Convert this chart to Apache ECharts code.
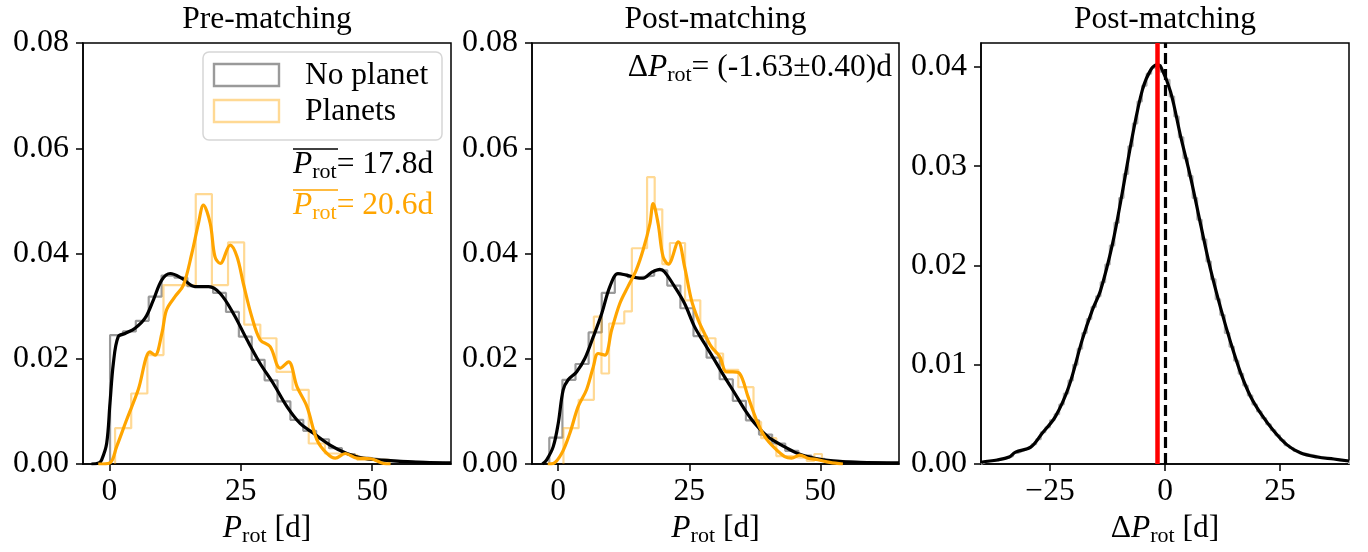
<!DOCTYPE html>
<html><head><meta charset="utf-8">
<script src="https://cdn.jsdelivr.net/npm/echarts@6/dist/echarts.min.js"></script>
<style>html,body{margin:0;padding:0;background:#fff}#c{width:1368px;height:552px}</style>
</head><body><div id="c"></div>
<script>
// ---------------- DATA ----------------
// Panel 1 (Pre-matching) – histograms (bin start, bin width, heights)
const h1NoStart = 0.15, h1NoWidth = 2.45;
const h1NoHeights = [0.0245,0.0252,0.0272,0.0318,0.0358,0.0354,0.0338,0.0337,0.0325,0.0289,0.0242,0.0198,0.0159,0.0119,0.0084,0.0063,0.0047,0.0030,0.0019,0.0012,0.0009,0.0007,0.0005,0.0004,0.0003,0.0002];
const h1PlStart = 1.1, h1PlWidth = 3.07;
const h1PlHeights = [0.0068,0.0134,0.0207,0.0340,0.0340,0.0513,0.0340,0.0421,0.0265,0.0239,0.0175,0.0141,0.0039,0.0020,0.0017,0.0008,0.0008];
// Panel 1 KDE curves
const k1NoX = [-3.4,-2.0,-1.45,-0.5,0.13,0.77,1.7,3.0,4.9,6.8,8.4,10.0,11.6,13.8,16.3,18.9,21.1,23.6,26.2,28.7,31.2,33.8,36.3,38.9,42.0,45.2,48.4,54,60,65];
const k1NoY = [0,0.0002,0.0008,0.0039,0.0115,0.0191,0.0242,0.0248,0.0258,0.0277,0.0312,0.0350,0.0362,0.0353,0.0337,0.0337,0.0324,0.0286,0.0236,0.0191,0.0153,0.0109,0.0077,0.0058,0.0036,0.0020,0.0011,0.0006,0.0003,0.0002];
const k1PlX = [-2.1,0.1,1.4,3.3,5.5,7.75,8.7,10.0,10.9,12.5,14.1,15.7,16.95,17.9,19.2,20.1,21.1,23.0,24.3,25.5,27.1,28.7,30.6,32.5,34.1,35.7,37.6,39.5,41.4,43.0,44.9,47.1,49.7,52.2,53.5];
const k1PlY = [0,0.0002,0.0033,0.0084,0.0141,0.0213,0.0207,0.0248,0.0293,0.0318,0.0340,0.0400,0.0457,0.0492,0.0457,0.0394,0.0381,0.0416,0.0394,0.0343,0.0280,0.0236,0.0223,0.0182,0.0194,0.0147,0.0109,0.0046,0.0020,0.0011,0.0020,0.0011,0.0010,0.0001,0];

// Panel 2 (Post-matching)
const h2NoStart = -1.7, h2NoWidth = 2.5;
const h2NoHeights = [0.0050,0.0160,0.0190,0.0250,0.0325,0.0360,0.0355,0.0358,0.0368,0.0339,0.0296,0.0243,0.0202,0.0161,0.0120,0.0083,0.0056,0.0039,0.0025,0.0016,0.0010,0.0006,0.0005,0.0003,0.0003,0.0002];
const h2PlStart = 1.0, h2PlWidth = 1.45;
const h2PlHeights = [0.0068,0.0068,0.0122,0.0122,0.0280,0.0172,0.0267,0.0267,0.0290,0.0410,0.0410,0.0545,0.0484,0.0380,0.0420,0.0420,0.0311,0.0311,0.0239,0.0239,0.0210,0.0179,0.0179,0.0146,0.0146,0.0080,0.0049,0.0049,0.0015,0.0015,0.0012,0.0012,0.0006,0.0019,0.0006];
const k2NoX = [-3.0,-2.2,-0.95,0,0.95,1.9,3.5,5.1,6.7,8.3,9.85,11.4,13.0,14.9,16.2,17.8,19.4,20.3,22.2,24.1,26.0,27.9,29.8,31.7,33.7,35.6,37.5,40.0,42.6,45.7,48.9,52.4,57.5,65];
const k2NoY = [0,0.0008,0.0033,0.0077,0.0141,0.0160,0.0175,0.0201,0.0242,0.0286,0.0337,0.0362,0.0359,0.0354,0.0353,0.0364,0.0370,0.0365,0.0337,0.0305,0.0261,0.0229,0.0198,0.0166,0.0134,0.0103,0.0077,0.0052,0.0036,0.0020,0.0011,0.0006,0.0003,0.0002];
const k2PlX = [-2.0,-0.95,0.65,2.2,3.8,5.4,6.7,7.6,8.9,10.2,11.75,13.3,14.9,16.2,17.5,18.1,19.05,20.0,21.0,22.9,24.1,25.4,26.7,27.9,29.2,30.8,32.1,33.3,34.6,36.2,37.8,39.4,41.3,43.2,44.5,46.1,47.6,49.5,51.8,54.3];
const k2PlY = [0,0.0001,0.0020,0.0058,0.0109,0.0141,0.0185,0.0210,0.0207,0.0255,0.0305,0.0337,0.0369,0.0407,0.0457,0.0495,0.0457,0.0394,0.0380,0.0422,0.0375,0.0312,0.0274,0.0248,0.0223,0.0204,0.0175,0.0175,0.0172,0.0128,0.0084,0.0052,0.0030,0.0014,0.0011,0.0017,0.0011,0.0008,0.0003,0];

// Panel 3 (difference distribution)
const h3Start = -40, h3Width = 1;
const h3Heights = [0.0002,0.0003,0.0003,0.0004,0.0005,0.0006,0.0008,0.0011,0.0013,0.0015,0.0017,0.0020,0.0025,0.0032,0.0037,0.0044,0.0050,0.0060,0.0071,0.0084,0.0100,0.0116,0.0132,0.0146,0.0158,0.0169,0.0183,0.0201,0.0220,0.0243,0.0268,0.0292,0.0320,0.0343,0.0365,0.0381,0.0393,0.0399,0.0402,0.0395,
                    0.0387,0.0370,0.0350,0.0329,0.0308,0.0290,0.0268,0.0246,0.0226,0.0204,0.0186,0.0166,0.0150,0.0132,0.0118,0.0104,0.0091,0.0079,0.0069,0.0060,0.0053,0.0046,0.0040,0.0034,0.0029,0.0024,0.0019,0.0016,0.0013,0.0011,0.0010,0.0009,0.0008,0.0007,0.0006,0.0005,0.0005,0.0004,0.0004,0.0003];
const k3X = [-40,-39.7,-36.5,-33.9,-32.5,-29.2,-26.7,-23.8,-20.9,-18.0,-15.8,-14.0,-11.4,-9.3,-7.1,-4.9,-3.1,-1.65,-0.9,1.2,3.4,5.6,7.8,9.9,12.1,14.3,16.5,18.6,20.8,23.7,26.6,29.5,33.1,36.7,40];
const k3Y = [0.0001,0.0002,0.0004,0.0007,0.0012,0.0017,0.0031,0.0048,0.0078,0.0125,0.0155,0.0175,0.0222,0.0273,0.0330,0.0377,0.0397,0.0402,0.0400,0.0375,0.0330,0.0288,0.0240,0.0196,0.0157,0.0122,0.0091,0.0068,0.0051,0.0033,0.0019,0.0011,0.0007,0.0005,0.0003];
const deltaMean = -1.63;
const refLine = 0;

// Axis ticks / texts
const xTicks12 = [0, 25, 50];
const xTicks3 = [-25, 0, 25];
const yTicks12 = [0, 0.02, 0.04, 0.06, 0.08];
const yTicks3 = [0, 0.01, 0.02, 0.03, 0.04];
const titles = ['Pre-matching', 'Post-matching', 'Post-matching'];
const legendNames = ['No planet', 'Planets'];
const meanNo = '17.8d', meanPl = '20.6d';
const deltaText = '(-1.63\u00b10.40)d';

// ---------------- HELPERS ----------------
const FONT = '"Liberation Serif","Times New Roman",serif';
const FS = 31.5, FSUB = 22, FTICK = 32;
const C_GRAY = '#9a9a9a', C_ORANGE = '#FFA500', C_ORL = 'rgba(255,165,0,0.42)';
function pairs(xs, ys){ return xs.map((x,i)=>[x, ys[i]]); }
function steps(start, w, hs){
  const p = [[start,0]];
  hs.forEach((h,i)=>{ p.push([start+i*w,h]); p.push([start+(i+1)*w,h]); });
  p.push([start+hs.length*w,0]);
  return p;
}
const grids = [
  {left:83, top:43, width:368, height:421},
  {left:532, top:43, width:367, height:421},
  {left:981, top:43, width:368, height:421}
];
const rich = {
  i:{fontStyle:'italic', fontSize:FS, fontFamily:FONT, color:'#000'},
  s:{fontSize:FSUB, fontFamily:FONT, color:'#000', padding:[14,0,0,0]},
  n:{fontSize:FS, fontFamily:FONT, color:'#000'}
};
function xAxis(i, min, max, ticks, name){
  return {type:'value', gridIndex:i, min:min, max:max,
    axisLine:{show:true, onZero:false, lineStyle:{color:'#000', width:1.5}},
    axisTick:{show:true, inside:false, length:7, customValues:ticks, lineStyle:{color:'#000', width:1.5}},
    axisLabel:{customValues:ticks, color:'#000', fontSize:FS, fontFamily:FONT, margin:12,
      formatter:v=> v<0 ? '\u2212'+Math.abs(v) : String(v)},
    splitLine:{show:false},
    name:name, nameLocation:'middle', nameGap:44,
    nameTextStyle:{fontSize:FS, fontFamily:FONT, color:'#000', rich:rich}
  };
}
function yAxis(i, max, ticks){
  return {type:'value', gridIndex:i, min:0, max:max,
    axisLine:{show:true, onZero:false, lineStyle:{color:'#000', width:1.5}},
    axisTick:{show:true, inside:false, length:7, customValues:ticks, lineStyle:{color:'#000', width:1.5}},
    axisLabel:{customValues:ticks, color:'#000', fontSize:FTICK, fontFamily:FONT, margin:14,
      formatter:v=>v.toFixed(2)},
    splitLine:{show:false}
  };
}
function line(i, data, color, width, z){
  return {type:'line', xAxisIndex:i, yAxisIndex:i, data:data, showSymbol:false, symbol:'none',
    smooth:false, silent:true, z:z, lineStyle:{color:color, width:width}, animation:false};
}
function kde(i, data, color, z){
  const s = line(i, data, color, 3.2, z); s.smooth = 0.35; return s;
}

const series = [
  line(0, steps(h1NoStart,h1NoWidth,h1NoHeights), C_GRAY, 2.2, 2),
  line(0, steps(h1PlStart,h1PlWidth,h1PlHeights), C_ORL, 2.2, 2),
  kde(0, pairs(k1NoX,k1NoY), '#000', 3),
  kde(0, pairs(k1PlX,k1PlY), C_ORANGE, 4),
  line(1, steps(h2NoStart,h2NoWidth,h2NoHeights), C_GRAY, 2.2, 2),
  line(1, steps(h2PlStart,h2PlWidth,h2PlHeights), C_ORL, 2.2, 2),
  kde(1, pairs(k2NoX,k2NoY), '#000', 3),
  kde(1, pairs(k2PlX,k2PlY), C_ORANGE, 4),
  line(2, steps(h3Start,h3Width,h3Heights), '#b0b0b0', 2, 2),
  kde(2, pairs(k3X,k3Y), '#000', 3),
  {type:'line', xAxisIndex:2, yAxisIndex:2, data:[], silent:true, z:5,
    markLine:{symbol:'none', silent:true, animation:false, label:{show:false},
      data:[
        {xAxis:deltaMean, lineStyle:{color:'#ff0000', width:4.5, type:'solid'}},
        {xAxis:refLine, lineStyle:{color:'#000', width:3.2, type:[11,5]}}
      ]}}
];

const graphic = [];
titles.forEach((t,i)=>{
  const g = grids[i];
  graphic.push({type:'text', x:g.left+g.width/2, y:20, z:10,
    style:{text:t, fill:'#000', font:FS+'px '+FONT, align:'center', verticalAlign:'middle'}});
});
// legend box
graphic.push({type:'rect', z:20, shape:{x:203, y:52, width:239, height:88, r:6},
  style:{fill:'rgba(255,255,255,0.8)', stroke:'#d6d6d6', lineWidth:1.5}});
graphic.push({type:'rect', z:21, shape:{x:214, y:64, width:65, height:22},
  style:{fill:'none', stroke:C_GRAY, lineWidth:2.4}});
graphic.push({type:'rect', z:21, shape:{x:214, y:100, width:65, height:22},
  style:{fill:'none', stroke:C_ORL, lineWidth:2.4}});
graphic.push({type:'text', z:21, x:305, y:76,
  style:{text:legendNames[0], fill:'#000', font:FS+'px '+FONT, verticalAlign:'middle'}});
graphic.push({type:'text', z:21, x:305, y:112,
  style:{text:legendNames[1], fill:'#000', font:FS+'px '+FONT, verticalAlign:'middle'}});
// mean annotations
function richFor(color){
  return {
    i:{fontStyle:'italic', fontSize:FS, fontFamily:FONT, fill:color},
    s:{fontSize:FSUB, fontFamily:FONT, fill:color, padding:[14,0,0,0]},
    n:{fontSize:FS, fontFamily:FONT, fill:color}
  };
}
[[meanNo,'#000',165,149],[meanPl,C_ORANGE,206,190]].forEach(([t,c,y,oy])=>{
  graphic.push({type:'text', z:12, x:293, y:y,
    style:{text:'{i|P}{s|rot}{n|= '+t+'}', rich:richFor(c), fill:c, font:FS+'px '+FONT, verticalAlign:'middle'}});
  graphic.push({type:'line', z:12, shape:{x1:293, y1:oy, x2:338, y2:oy}, style:{stroke:c, lineWidth:1.6}});
});
graphic.push({type:'text', z:12, x:892, y:68,
  style:{text:'{n|\u0394}{i|P}{s|rot}{n|= '+deltaText+'}', rich:richFor('#000'), fill:'#000', font:FS+'px '+FONT, align:'right', verticalAlign:'middle'}});

const chart = echarts.init(document.getElementById('c'), null, {renderer:'canvas'});
chart.setOption({
  animation:false,
  backgroundColor:'#fff',
  grid: grids.map(g=>Object.assign({show:true, borderColor:'#000', borderWidth:1.5, backgroundColor:'transparent'}, g)),
  xAxis:[
    xAxis(0,-5,65,xTicks12,'{i|P}{s|rot} [d]'),
    xAxis(1,-5,65,xTicks12,'{i|P}{s|rot} [d]'),
    xAxis(2,-40,40,xTicks3,'\u0394{i|P}{s|rot} [d]')
  ],
  yAxis:[ yAxis(0,0.08,yTicks12), yAxis(1,0.08,yTicks12), yAxis(2,0.0424,yTicks3) ],
  series: series,
  graphic: graphic
});
</script></body></html>
